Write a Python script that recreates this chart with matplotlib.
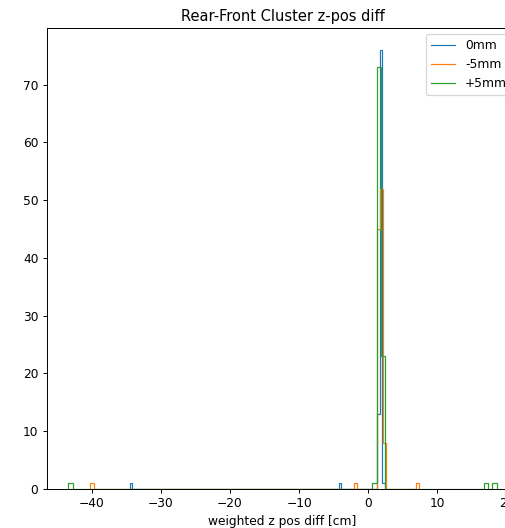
import numpy as np
import matplotlib.pyplot as plt
from matplotlib.lines import Line2D

# z-pos diff values [cm] and counts per offset
z_0mm = [-34.5, -4.0, 1.5, 1.85, 2.4]
n_0mm = [1, 1, 13, 76, 1]

z_m5mm = [-40.2, -1.8, 1.5, 1.9, 2.3, 7.4]
n_m5mm = [1, 1, 45, 52, 8, 1]

z_p5mm = [-43.4, 0.8, 1.5, 2.0, 17.2, 18.6]
n_p5mm = [1, 1, 73, 23, 1, 1]

labels = ["0mm", "-5mm", "+5mm"]
colors = ["tab:blue", "tab:orange", "tab:green"]

dpi = 88
fig = plt.figure(figsize=(505 / dpi, 528 / dpi), dpi=dpi)
ax = fig.add_axes([0.093, 0.074, 0.933, 0.873])

for z, n, c in zip([z_0mm, z_m5mm, z_p5mm], [n_0mm, n_m5mm, n_p5mm], colors):
    ax.hist(z, weights=n, bins=100, histtype='step', color=c, linewidth=1.0)

handles = [Line2D([], [], color=c, linewidth=1.0) for c in colors]
ax.legend(handles, labels, loc="upper right")
ax.set_title("Rear-Front Cluster z-pos diff")
ax.set_xlabel("weighted z pos diff [cm]")
fig.savefig("out.png", dpi=dpi)
